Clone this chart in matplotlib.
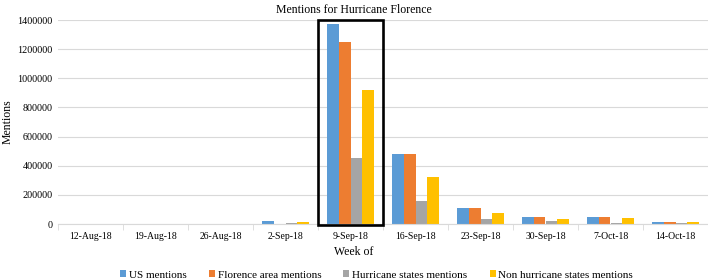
import matplotlib.pyplot as plt
import numpy as np
from matplotlib.patches import Rectangle

weeks = ['12-Aug-18', '19-Aug-18', '26-Aug-18', '2-Sep-18', '9-Sep-18',
         '16-Sep-18', '23-Sep-18', '30-Sep-18', '7-Oct-18', '14-Oct-18']
us_mentions = [500, 500, 1000, 22000, 1370000, 480000, 110000, 50000, 50000, 15000]
florence_mentions = [200, 200, 500, 1500, 1250000, 480000, 110000, 48000, 50000, 15000]
hurricane_states = [100, 100, 300, 7000, 450000, 160000, 35000, 18000, 10000, 5000]
non_hurricane_states = [300, 300, 600, 16000, 920000, 320000, 75000, 35000, 38000, 12000]

series = [
    ('US mentions', us_mentions, '#5B9BD5'),
    ('Florence area mentions', florence_mentions, '#ED7D31'),
    ('Hurricane states mentions', hurricane_states, '#A5A5A5'),
    ('Non hurricane states mentions', non_hurricane_states, '#FFC000'),
]

plt.rcParams['font.family'] = ['Liberation Serif', 'DejaVu Serif']

fig = plt.figure(figsize=(7.08, 2.79), dpi=100)
ax = fig.add_axes([58 / 708, 1 - 224 / 279, 650 / 708, 204 / 279])

x = np.arange(len(weeks))
bw = 0.18
for i, (name, vals, col) in enumerate(series):
    ax.bar(x + (i - 1.5) * bw, vals, width=bw, color=col, label=name, zorder=2)

# highlight box around the landfall week
ax.add_patch(Rectangle((3.5, -5000), 1.0, 1405000, fill=False,
                       edgecolor='black', linewidth=1.9, zorder=3, clip_on=False))

ax.set_xlim(-0.5, len(weeks) - 0.5)
ax.set_ylim(0, 1400000)
ax.set_yticks(np.arange(0, 1400001, 200000))
ax.set_yticklabels([str(v) for v in range(0, 1400001, 200000)], fontsize=7.3)
ax.set_xticks(x)
ax.set_xticklabels(weeks, fontsize=7.0)
ax.set_xticks(np.arange(-0.5, len(weeks)), minor=True)
ax.tick_params(axis='x', which='major', length=0, pad=6)
ax.tick_params(axis='x', which='minor', length=4, color='#d9d9d9')
ax.tick_params(axis='y', length=0, pad=4)
ax.grid(axis='y', color='#d9d9d9', linewidth=0.8, zorder=0)
for s in ['top', 'right', 'left']:
    ax.spines[s].set_visible(False)
ax.spines['bottom'].set_color('#d9d9d9')

ax.set_title('Mentions for Hurricane Florence', fontsize=8.5, pad=5, x=0.455)
ax.set_xlabel('Week of', fontsize=8.5)
ax.xaxis.set_label_coords(0.455, -0.11)
ax.set_ylabel('Mentions', fontsize=8.5)
ax.yaxis.set_label_coords(-0.068, 0.5)

ax.legend(loc='center', bbox_to_anchor=(0.49, -0.25), ncol=4,
          frameon=False, fontsize=8.0, handlelength=0.55, handleheight=0.55,
          handletextpad=0.25, columnspacing=2.0)

fig.savefig('out.png', dpi=100)
